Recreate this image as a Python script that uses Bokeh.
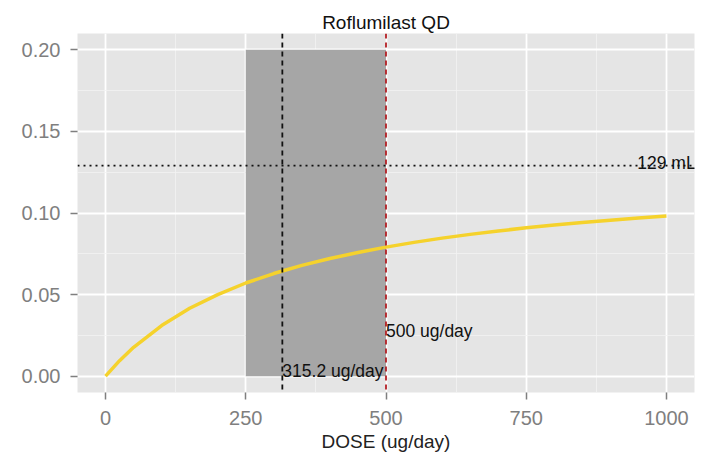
from bokeh.plotting import figure
from bokeh.models import FixedTicker, Label, Span, Range1d
from bokeh.embed import file_html
from bokeh.resources import INLINE

# data
dose = [0, 25, 50, 100, 150, 200, 250, 300, 350, 400, 450, 500, 550, 600,
        650, 700, 750, 800, 850, 900, 950, 1000]
effect = [0.0, 0.0095, 0.0177, 0.031, 0.0416, 0.050, 0.0571, 0.0629, 0.0679,
          0.0721, 0.0758, 0.0791, 0.082, 0.0846, 0.0869, 0.089, 0.0909,
          0.0926, 0.0942, 0.0956, 0.0969, 0.0981]
band_lo, band_hi = 250, 500
band_top = 0.20
ed50_dose = 315.2
target_dose = 500
target_effect = 0.129
x_ticks = [0, 250, 500, 750, 1000]
x_minor = [125, 375, 625, 875]
y_ticks = [0.0, 0.05, 0.10, 0.15, 0.20]
y_minor = [0.025, 0.075, 0.125, 0.175]
y_labels = {0.0: "0.00", 0.05: "0.05", 0.10: "0.10", 0.15: "0.15", 0.20: "0.20"}

FONT = "Liberation Sans"
p = figure(width=702, height=454, output_backend="svg", toolbar_location=None,
           x_range=Range1d(-50, 1050), y_range=Range1d(-0.01, 0.21),
           title="Roflumilast QD")
p.min_border_left = 77
p.min_border_right = 8
p.min_border_top = 33
p.min_border_bottom = 61
p.background_fill_color = "#E5E5E5"
p.border_fill_color = "white"
p.outline_line_color = None

p.title.align = "center"
p.title.text_font = FONT
p.title.text_font_size = "19px"
p.title.text_font_style = "normal"
p.title.text_color = "#111111"
p.title.standoff = 2

p.xaxis.ticker = FixedTicker(ticks=x_ticks, minor_ticks=x_minor)
p.yaxis.ticker = FixedTicker(ticks=y_ticks, minor_ticks=y_minor)
p.yaxis.major_label_overrides = y_labels
for ax in (p.xaxis, p.yaxis):
    ax.axis_line_color = None
    ax.major_tick_line_color = "#7F7F7F"
    ax.major_tick_line_width = 1.5
    ax.major_tick_in = 0
    ax.major_tick_out = 7
    ax.minor_tick_line_color = None
    ax.major_label_text_font = FONT
    ax.major_label_text_font_size = "20px"
    ax.major_label_text_color = "#7F7F7F"
p.yaxis.major_label_standoff = 10
p.xaxis.major_label_standoff = 11
p.xaxis.axis_label = "DOSE (ug/day)"
p.xaxis.axis_label_text_font = FONT
p.xaxis.axis_label_text_font_size = "19px"
p.xaxis.axis_label_text_font_style = "normal"
p.xaxis.axis_label_text_color = "#222222"
p.xaxis.axis_label_standoff = 3

p.grid.grid_line_color = "white"
p.grid.grid_line_width = 1.8
p.grid.minor_grid_line_color = "#F2F2F2"
p.grid.minor_grid_line_width = 0.8

p.quad(left=[band_lo], right=[band_hi], bottom=[0], top=[band_top],
       fill_color="#A6A6A6", line_color=None)

p.add_layout(Span(location=ed50_dose, dimension="height", line_color="#111111",
                  line_dash="5 4", line_width=1.8))
p.add_layout(Span(location=target_dose, dimension="height", line_color="#B41F24",
                  line_dash="5 4", line_width=1.8))
p.add_layout(Span(location=target_effect, dimension="width", line_color="#111111",
                  line_dash="2 4", line_width=1.8))

p.line(dose, effect, line_color="#F5D22C", line_width=3.5)

lab_kw = dict(text_font=FONT, text_font_size="17.5px", text_color="#111111")
p.add_layout(Label(x=target_dose, y=0.0275, text="500 ug/day", text_align="left",
                   text_baseline="middle", **lab_kw))
p.add_layout(Label(x=ed50_dose, y=0.003, text="315.2 ug/day", text_align="left",
                   text_baseline="middle", **lab_kw))
p.add_layout(Label(x=1000, y=0.1305, text="129 mL", text_align="center",
                   text_baseline="middle", **lab_kw))
p.add_layout(Label(x=-76, y=-25, x_units="screen", y_units="screen", text="0",
                   text_align="left", text_baseline="middle", level="overlay",
                   text_font=FONT, text_font_size="20px", text_color="#7F7F7F"))

open("out.html", "w").write(file_html(p, INLINE))
